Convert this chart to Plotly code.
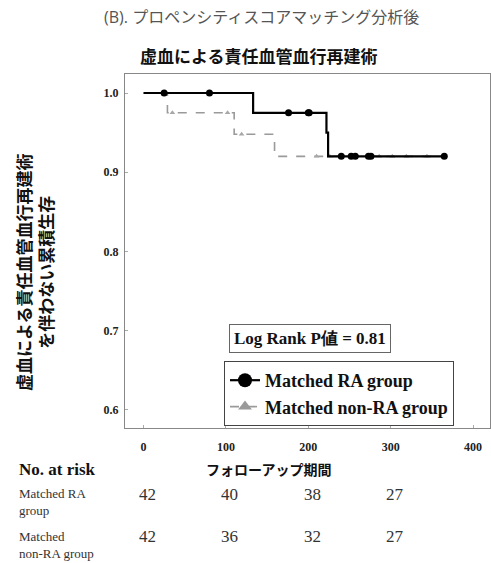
import plotly.graph_objects as go
import numpy as np

# ---- data ----
ra_times = [0, 133, 222, 224, 365]
ra_surv = [1.0, 0.975, 0.95, 0.92, 0.92]
ra_censor = [25, 80, 176, 200, 201, 240, 252, 257, 273, 276, 365]

non_times = [0, 29, 110, 159, 365]
non_surv = [1.0, 0.975, 0.948, 0.92, 0.92]
non_censor = [35, 102, 119, 210, 226, 286, 302, 319, 344]

risk_times = [0, 100, 200, 300]
risk_ra = [42, 40, 38, 27]
risk_non = [42, 36, 32, 27]

x_ticks = [0, 100, 200, 300, 400]
y_ticks = [0.6, 0.7, 0.8, 0.9, 1.0]

W, H = 491, 563
L, R, T, B = 125, 1, 74, 135
PW, PH = W - L - R, H - T - B


def px(xp):
    return (xp - L) / PW


def py(yp):
    return (H - B - yp) / PH


def step_val(times, surv, t):
    idx = np.searchsorted(times, t, side="right") - 1
    return surv[max(idx, 0)]


SERIF = "Liberation Serif"
CJK = "Noto Sans CJK JP"

fig = go.Figure()

fig.add_trace(go.Scatter(x=non_times, y=non_surv, mode="lines", line_shape="hv",
                         line=dict(color="#9a9a9a", width=1.6, dash="dash"),
                         showlegend=False, hoverinfo="skip"))
fig.add_trace(go.Scatter(x=non_censor, y=[step_val(non_times, non_surv, t) for t in non_censor],
                         mode="markers", marker=dict(symbol="triangle-up", size=5, color="#a8a8a8"),
                         showlegend=False, hoverinfo="skip"))
fig.add_trace(go.Scatter(x=ra_times, y=ra_surv, mode="lines", line_shape="hv",
                         line=dict(color="black", width=2.2),
                         showlegend=False, hoverinfo="skip"))
fig.add_trace(go.Scatter(x=ra_censor, y=[step_val(ra_times, ra_surv, t) for t in ra_censor],
                         mode="markers", marker=dict(symbol="circle", size=7, color="black"),
                         showlegend=False, hoverinfo="skip"))

# legend-only traces
fig.add_trace(go.Scatter(x=[None], y=[None], mode="lines+markers", name="<b>Matched RA group</b>",
                         line=dict(color="black", width=2.2),
                         marker=dict(symbol="circle", size=14, color="black")))
fig.add_trace(go.Scatter(x=[None], y=[None], mode="lines+markers", name="<b>Matched non-RA group</b>",
                         line=dict(color="#9a9a9a", width=1.6, dash="dash"),
                         marker=dict(symbol="triangle-up", size=12, color="#9a9a9a")))

axis_common = dict(showline=True, linecolor="#888", linewidth=1, mirror=True,
                   showgrid=False, zeroline=False, ticks="inside", ticklen=3,
                   tickcolor="#aaa",
                   tickfont=dict(family=SERIF, size=12, color="#222"))

fig.update_xaxes(range=[-22.5, 420.5], tickvals=x_ticks, ticktext=[f"<b>{v}</b>" for v in x_ticks],
                 ticklabelstandoff=8, **axis_common)
fig.update_yaxes(range=[0.577, 1.024], tickvals=y_ticks, ticktext=[f"<b>{v:.1f}</b>" for v in y_ticks],
                 ticklabelstandoff=3, **axis_common)

ann = []
# titles
ann.append(dict(text="(B). プロペンシティスコアマッチング分析後", x=px(102), y=py(17),
                xanchor="left", yanchor="middle", xref="paper", yref="paper", showarrow=False,
                font=dict(family="Open Sans, Noto Sans CJK JP", size=16, color="#555")))
ann.append(dict(text="<b>虚血による責任血管血行再建術</b>", x=px(259), y=py(55),
                xanchor="center", yanchor="middle", xref="paper", yref="paper", showarrow=False,
                font=dict(family=CJK, size=17, color="#111")))
# y-axis title
ann.append(dict(text="<b>虚血による責任血管血行再建術<br>を伴わない累積生存</b>", x=px(34), y=py(272),
                xanchor="center", yanchor="middle", xref="paper", yref="paper", showarrow=False,
                textangle=-90, align="center",
                font=dict(family=CJK, size=17, color="#111")))
# x-axis title
ann.append(dict(text="<b>フォローアップ期間</b>", x=px(268), y=py(469),
                xanchor="center", yanchor="middle", xref="paper", yref="paper", showarrow=False,
                font=dict(family=CJK, size=14, color="#111")))
# log rank box
ann.append(dict(text="<b>Log Rank P値 = 0.81</b>", x=px(310), y=py(338),
                xanchor="center", yanchor="middle", xref="paper", yref="paper", showarrow=False,
                bordercolor="#666", borderwidth=1, borderpad=4, bgcolor="white",
                font=dict(family=SERIF, size=17, color="#111")))
# risk table
ann.append(dict(text="<b>No. at risk</b>", x=px(17), y=py(469),
                xanchor="left", yanchor="middle", xref="paper", yref="paper", showarrow=False,
                font=dict(family=SERIF, size=17, color="#111")))
ann.append(dict(text="Matched RA<br>group", x=px(17), y=py(502),
                xanchor="left", yanchor="middle", xref="paper", yref="paper", showarrow=False,
                align="left", font=dict(family=SERIF, size=13, color="#333")))
ann.append(dict(text="Matched<br>non-RA group", x=px(17), y=py(545),
                xanchor="left", yanchor="middle", xref="paper", yref="paper", showarrow=False,
                align="left", font=dict(family=SERIF, size=13, color="#333")))
for t, a, b in zip(risk_times, risk_ra, risk_non):
    ann.append(dict(text=str(a), x=t, y=py(494), xref="x", yref="paper", xshift=4,
                    xanchor="center", yanchor="middle", showarrow=False,
                    font=dict(family=SERIF, size=17, color="#333")))
    ann.append(dict(text=str(b), x=t, y=py(536), xref="x", yref="paper", xshift=4,
                    xanchor="center", yanchor="middle", showarrow=False,
                    font=dict(family=SERIF, size=17, color="#333")))

fig.update_layout(
    width=W, height=H,
    margin=dict(l=L, r=R, t=T, b=B),
    paper_bgcolor="white", plot_bgcolor="white",
    annotations=ann,
    legend=dict(x=px(224), y=py(361), xanchor="left", yanchor="top",
                bordercolor="#444", borderwidth=1, bgcolor="white",
                font=dict(family=SERIF, size=18, color="#111"),
                tracegroupgap=0, itemwidth=30),
)

fig.write_html("out.html")
